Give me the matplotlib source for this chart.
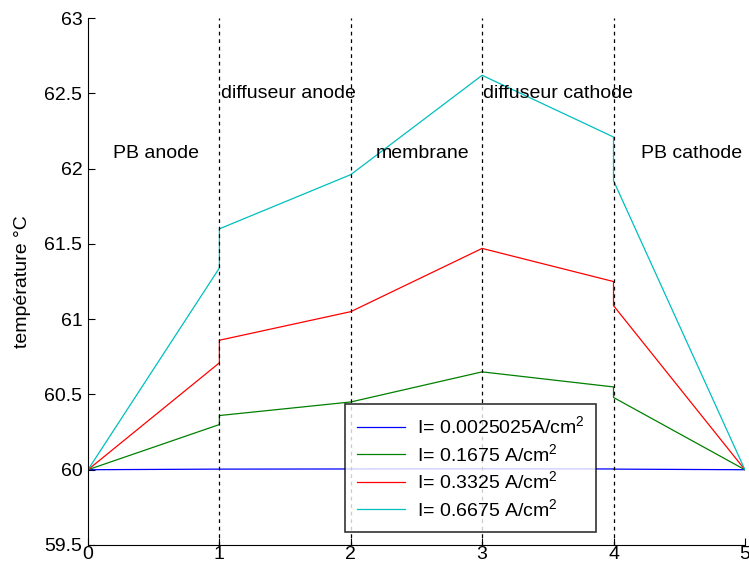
import matplotlib
matplotlib.use("Agg")
import matplotlib.pyplot as plt

plt.rcParams['font.family'] = ['Liberation Sans', 'DejaVu Sans']
plt.rcParams['mathtext.default'] = 'regular'

# positions along the cell (the interfaces appear twice: jump across them)
x = [0, 1, 1, 2, 3, 4, 4, 5]
t_0025 = [60.0, 60.004, 60.004, 60.005, 60.006, 60.005, 60.004, 60.0]
t_1675 = [60.0, 60.30, 60.36, 60.45, 60.65, 60.55, 60.48, 60.0]
t_3325 = [60.0, 60.71, 60.86, 61.05, 61.47, 61.25, 61.09, 60.0]
t_6675 = [60.0, 61.34, 61.60, 61.96, 62.62, 62.21, 61.92, 60.0]
labels = ['I= 0.0025025A/cm$^{2}$', 'I= 0.1675 A/cm$^{2}$',
          'I= 0.3325 A/cm$^{2}$', 'I= 0.6675 A/cm$^{2}$']
colors = ['#0000ff', '#008000', '#ff0000', '#00bfbf']

zones = ['PB anode', 'diffuseur anode', 'membrane', 'diffuseur cathode', 'PB cathode']
zone_x = [0.19, 1.01, 2.19, 3.01, 4.21]
zone_y = [62.1, 62.5, 62.1, 62.5, 62.1]
interfaces = [1, 2, 3, 4]

fs = 14

fig = plt.figure(figsize=(7.49, 5.65), dpi=100)
ax = fig.add_axes([0.1175, 0.0354, 0.877, 0.9326])

for ys, lab, col in zip([t_0025, t_1675, t_3325, t_6675], labels, colors):
    ax.plot(x, ys, color=col, lw=0.9, label=lab)

for xi in interfaces:
    ax.axvline(xi, color='black', lw=0.9, ls=(0, (3, 3)))

for name, zx, zy in zip(zones, zone_x, zone_y):
    ax.text(zx, zy, name, fontsize=fs, va='center', ha='left')

ax.set_xlim(0, 5)
ax.set_ylim(59.5, 63)
ax.set_xticks(range(6))
ax.set_yticks([59.5, 60, 60.5, 61, 61.5, 62, 62.5, 63])
ax.set_yticklabels(['59.5', '60', '60.5', '61', '61.5', '62', '62.5', '63'])
ax.tick_params(direction='in', labelsize=fs, length=5, pad=4)
ax.tick_params(axis='x', pad=1)
ax.spines['top'].set_visible(False)
ax.spines['right'].set_visible(False)
ax.set_ylabel('température °C', fontsize=fs, labelpad=10)

leg = ax.legend(loc='upper left', bbox_to_anchor=(0.391, 0.268), fontsize=fs,
                frameon=True, fancybox=False, borderpad=0.6, labelspacing=0.29,
                handlelength=2.5, handletextpad=0.6, borderaxespad=0)
leg.get_frame().set_edgecolor('black')
leg.get_frame().set_linewidth(1.2)

fig.savefig('out.png', dpi=100)
